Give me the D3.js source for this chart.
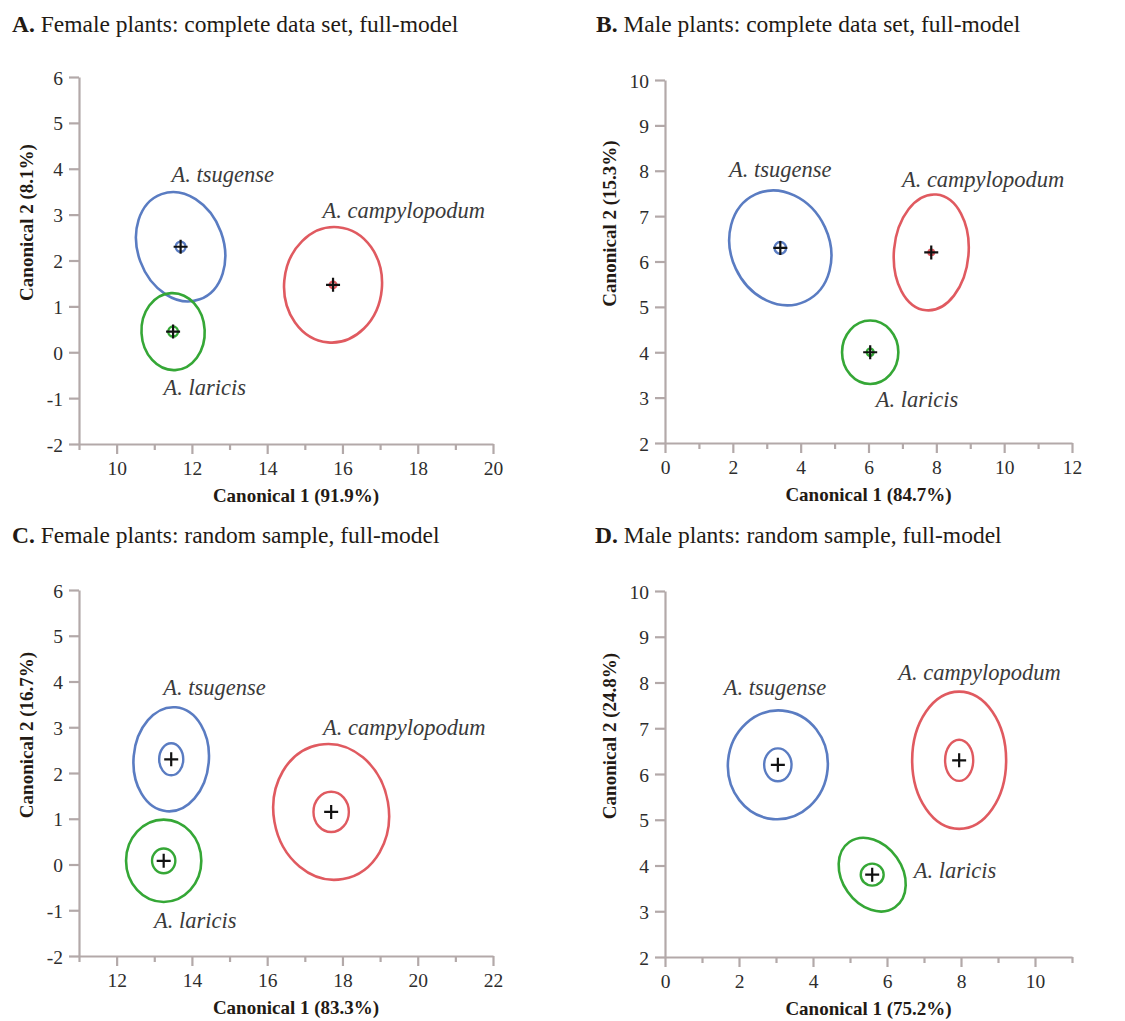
<!DOCTYPE html>
<html>
<head>
<meta charset="utf-8">
<script src="https://cdn.jsdelivr.net/npm/d3@7"></script>
<style>
  html, body { margin: 0; padding: 0; background: #ffffff; }
  svg { display: block; }
</style>
</head>
<body>
<svg id="chart" width="1125" height="1021"></svg>
<script>
// ---------------- data ----------------
const panelLetters = ["A.", "B.", "C.", "D."];
const panelTitles = [
  " Female plants: complete data set, full-model",
  " Male plants: complete data set, full-model",
  " Female plants: random sample, full-model",
  " Male plants: random sample, full-model"
];
const xAxisLabels = ["Canonical 1 (91.9%)", "Canonical 1 (84.7%)", "Canonical 1 (83.3%)", "Canonical 1 (75.2%)"];
const yAxisLabels = ["Canonical 2 (8.1%)", "Canonical 2 (15.3%)", "Canonical 2 (16.7%)", "Canonical 2 (24.8%)"];
const xDomains = [[9, 20], [0, 12], [11, 22], [0, 11]];
const yDomains = [[-2, 6], [2, 10], [-2, 6], [2, 10]];
const xTickLabels = [[10, 12, 14, 16, 18, 20], [0, 2, 4, 6, 8, 10, 12], [12, 14, 16, 18, 20, 22], [0, 2, 4, 6, 8, 10]];
const xMinorTicks = [[9, 11, 13, 15, 17, 19], [1, 3, 5, 7, 9, 11], [11, 13, 15, 17, 19, 21], [1, 3, 5, 7, 9, 11]];
const yTickLabels = [[-2, -1, 0, 1, 2, 3, 4, 5, 6], [2, 3, 4, 5, 6, 7, 8, 9, 10], [-2, -1, 0, 1, 2, 3, 4, 5, 6], [2, 3, 4, 5, 6, 7, 8, 9, 10]];

const species = ["A. tsugense", "A. campylopodum", "A. laricis"];
const speciesColors = ["#5a7cc2", "#e05a60", "#35a736"];

// centroids [canonical1, canonical2] per species (tsugense, campylopodum, laricis)
const centroidsA = [[11.7, 2.3], [15.75, 1.47], [11.5, 0.45]];
const centroidsB = [[3.4, 6.3], [7.85, 6.2], [6.05, 4.0]];
const centroidsC = [[13.45, 2.3], [17.7, 1.15], [13.25, 0.08]];
const centroidsD = [[3.05, 6.2], [7.95, 6.3], [5.6, 3.8]];

// outer (population) ellipses: [radius along canonical 1, radius along canonical 2, tilt deg]
const outerA = [[1.14, 1.22, -20], [1.30, 1.26, 5], [0.84, 0.84, -3]];
const outerB = [[1.45, 1.30, -25], [1.10, 1.28, 5], [0.83, 0.70, 0]];
const outerC = [[1.00, 1.14, 5], [1.53, 1.49, -10], [1.00, 0.90, 0]];
const outerD = [[1.35, 1.19, 5], [1.27, 1.50, 0], [0.81, 0.87, -35]];

// inner (centroid confidence) ellipses: [radius canonical 1, radius canonical 2]
const innerA = [[0.13, 0.11], [0.09, 0.07], [0.13, 0.11]];
const innerB = [[0.17, 0.13], [0.08, 0.06], [0.10, 0.08]];
const innerC = [[0.32, 0.35], [0.47, 0.44], [0.31, 0.27]];
const innerD = [[0.37, 0.36], [0.38, 0.45], [0.31, 0.24]];

// species label anchor points (centre x, baseline y) in data units
const labelsA = [[12.82, 3.71], [17.63, 2.93], [12.34, -0.93]];
const labelsB = [[3.4, 7.86], [9.38, 7.64], [7.43, 2.8]];
const labelsC = [[14.6, 3.7], [19.64, 2.83], [14.09, -1.39]];
const labelsD = [[2.97, 7.73], [8.5, 8.05], [7.84, 3.73]];

const centroids = [centroidsA, centroidsB, centroidsC, centroidsD];
const outers = [outerA, outerB, outerC, outerD];
const inners = [innerA, innerB, innerC, innerD];
const labelPos = [labelsA, labelsB, labelsC, labelsD];

// ---------------- layout ----------------
const plotX = [[79, 493], [665, 1072], [79, 493], [665, 1072]];
const plotY = [[444, 77], [443, 80], [956, 590], [957, 591]];
const titlePos = [[12, 32], [596, 32], [12, 543], [595, 543]];

const serif = "'Liberation Serif', 'Times New Roman', 'DejaVu Serif', serif";
const axisColor = "#b3a9a9";
const svg = d3.select("#chart");

panelLetters.forEach((letter, i) => {
  const x = d3.scaleLinear().domain(xDomains[i]).range(plotX[i]);
  const y = d3.scaleLinear().domain(yDomains[i]).range(plotY[i]);
  const g = svg.append("g");

  // title
  const t = g.append("text")
    .attr("x", titlePos[i][0]).attr("y", titlePos[i][1])
    .attr("font-family", serif).attr("font-size", 23.5).attr("fill", "#231a14");
  t.append("tspan").attr("font-weight", "bold").text(letter);
  t.append("tspan").text(panelTitles[i]);

  const fmt = d => String(d);
  // x axis (major ticks with labels)
  const xAxis = d3.axisBottom(x).tickValues(xTickLabels[i]).tickSize(10).tickSizeOuter(0).tickFormat(fmt);
  const xg = g.append("g").attr("transform", `translate(0,${plotY[i][0]})`).call(xAxis);
  // minor ticks
  const xMinor = d3.axisBottom(x).tickValues(xMinorTicks[i]).tickSize(6).tickSizeOuter(0).tickFormat("");
  const xmg = g.append("g").attr("transform", `translate(0,${plotY[i][0]})`).call(xMinor);
  xmg.select(".domain").remove();

  // y axis
  const yAxis = d3.axisLeft(y).tickValues(yTickLabels[i]).tickSize(10).tickSizeOuter(0).tickFormat(fmt);
  const yg = g.append("g").attr("transform", `translate(${plotX[i][0]},0)`).call(yAxis);

  [xg, xmg, yg].forEach(a => {
    a.selectAll(".domain").attr("stroke", axisColor).attr("stroke-width", 2.2);
    a.selectAll(".tick line").attr("stroke", axisColor).attr("stroke-width", 2.2);
    a.selectAll(".tick text").attr("font-family", serif).attr("font-size", 19.5).attr("fill", "#2d2d2d");
  });
  xg.selectAll(".tick text").attr("dy", null).attr("y", 31);
  yg.selectAll(".tick text").attr("x", -16).attr("dy", "0.36em");

  // axis titles
  g.append("text")
    .attr("x", (plotX[i][0] + plotX[i][1]) / 2 + (i % 2 === 0 ? 10 : 0))
    .attr("y", plotY[i][0] + 58)
    .attr("text-anchor", "middle")
    .attr("font-family", serif).attr("font-size", 19).attr("font-weight", "bold").attr("fill", "#231a14")
    .text(xAxisLabels[i]);
  const ycx = plotX[i][0] - (i % 2 === 0 ? 53 : 56);
  const ycy = (plotY[i][0] + plotY[i][1]) / 2 - 38;
  g.append("text")
    .attr("transform", `translate(${ycx},${ycy}) rotate(-90)`)
    .attr("text-anchor", "middle").attr("dy", "0.35em")
    .attr("font-family", serif).attr("font-size", 19).attr("font-weight", "bold").attr("fill", "#231a14")
    .text(yAxisLabels[i]);

  // ellipses
  species.forEach((sp, k) => {
    const [cx, cy] = centroids[i][k];
    const px = x(cx), py = y(cy);
    const [orx, ory, rot] = outers[i][k];
    g.append("ellipse")
      .attr("cx", px).attr("cy", py)
      .attr("rx", x(cx + orx) - px).attr("ry", py - y(cy + ory))
      .attr("transform", `rotate(${rot},${px},${py})`)
      .attr("fill", "none").attr("stroke", speciesColors[k]).attr("stroke-width", 2.6);
    const [irx, iry] = inners[i][k];
    g.append("ellipse")
      .attr("cx", px).attr("cy", py)
      .attr("rx", x(cx + irx) - px).attr("ry", py - y(cy + iry))
      .attr("fill", "none").attr("stroke", speciesColors[k]).attr("stroke-width", 2.4);
    // centroid cross
    const arm = 7;
    g.append("path")
      .attr("d", `M${px - arm},${py}H${px + arm}M${px},${py - arm}V${py + arm}`)
      .attr("stroke", "#111").attr("stroke-width", 2.2).attr("fill", "none");
    // species label
    const [lx, ly] = labelPos[i][k];
    g.append("text")
      .attr("x", x(lx)).attr("y", y(ly))
      .attr("text-anchor", "middle")
      .attr("font-family", serif).attr("font-style", "italic").attr("font-size", 22.5)
      .attr("fill", "#3a3a3a")
      .text(sp);
  });
});
</script>
</body>
</html>
